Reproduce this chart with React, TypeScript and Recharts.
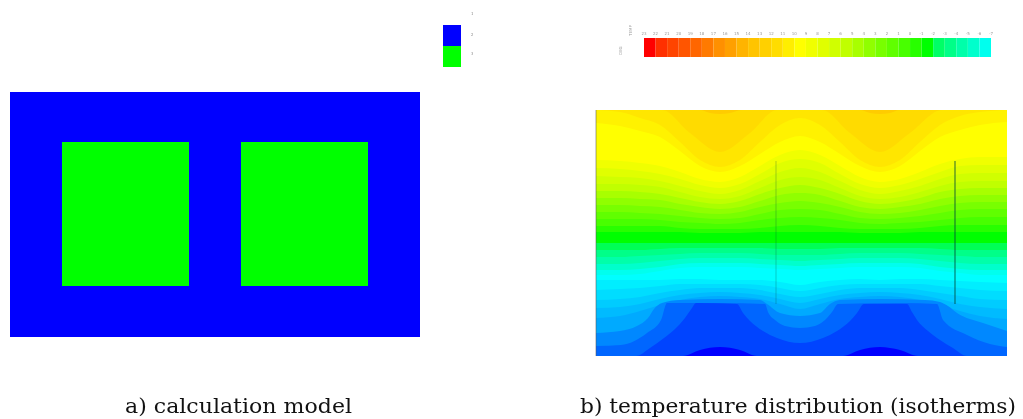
import React from "react";
import { ComposedChart, Area, XAxis, YAxis, ReferenceArea, ReferenceLine } from "recharts";

// ---- a) calculation model: cell extents in chart units
const modelOuterX = [10, 420];
const modelOuterY = [92, 337];
const modelInnerX = [[62, 189], [241, 368]];
const modelInnerY = [142, 286];
const materialColors = ["#0000ff", "#00ff00"];
const materialTicks = ["1", "2", "3"];

// ---- colour scale
const scaleColors = [
  "#ff0000", "#ff3000", "#ff4400", "#ff5500", "#ff6600", "#ff7a00", "#ff9000", "#ffa000", "#ffb400", "#ffc400",
  "#ffd000", "#ffdd00", "#ffee00", "#ffff00", "#f0ff00", "#e0ff00", "#d0ff00", "#c0ff00", "#a8ff00", "#90ff00",
  "#78ff00", "#60ff00", "#48ff00", "#28ff00", "#00ff00", "#00ff66", "#00ff88", "#00ffaa", "#00ffcc", "#00ffee",
];
const scaleTicks = [
  "23", "22", "21", "20", "19", "18", "17", "16", "15", "14", "13", "12", "11", "10", "9", "8",
  "7", "6", "5", "4", "3", "2", "1", "0", "-1", "-2", "-3", "-4", "-5", "-6", "-7",
];

// ---- b) isotherms: position of each contour across the section
const isoX = [596, 620, 640, 660, 680, 700, 720, 740, 760, 780, 800, 820, 840, 860, 880, 900, 920, 940, 960, 980, 1007];

const capX = [596, 700, 710, 720, 730, 742, 860, 870, 880, 890, 900, 1007];
const capY = [110, 110, 113, 114, 113, 110, 110, 113, 114, 113, 110, 110];
const vX = [596, 662, 690, 720, 750, 777, 822, 850, 880, 910, 942, 1007];
const vY = [110, 110, 133, 152, 133, 110, 110, 133, 152, 133, 110, 110];
const warmA = [110, 112, 118, 125, 142, 160, 167, 160, 142, 125, 118, 125, 142, 160, 167, 160, 142, 125, 116, 112, 110];
const warmB = [123, 126, 131, 137, 151, 166, 172, 166, 154, 142, 136, 142, 154, 166, 172, 166, 151, 137, 130, 125, 122];
const t5 = [160, 161, 163, 166, 172, 179, 182, 177, 166, 155, 150, 155, 166, 177, 182, 179, 172, 164, 159, 157, 157];
const t6 = [168, 169, 171, 174, 179, 185, 188, 184, 174, 163, 159, 163, 174, 184, 188, 185, 179, 172, 166, 165, 165];
const t7 = [176, 177, 178, 181, 186, 191, 194, 190, 181, 172, 168, 172, 181, 190, 194, 191, 186, 179, 174, 173, 173];
const t8 = [184, 184, 185, 187, 192, 197, 199, 196, 188, 180, 177, 180, 188, 196, 199, 197, 192, 186, 182, 181, 181];
const t9 = [191, 191, 192, 194, 198, 202, 204, 201, 194, 188, 185, 188, 194, 201, 204, 202, 198, 192, 189, 188, 188];
const t10 = [198, 198, 199, 200, 204, 207, 209, 207, 201, 195, 193, 195, 201, 207, 209, 207, 204, 199, 196, 195, 195];
const t11 = [205, 205, 206, 207, 210, 213, 214, 212, 207, 203, 201, 203, 207, 212, 214, 213, 210, 206, 203, 202, 202];
const t12 = [212, 212, 213, 214, 216, 218, 219, 218, 214, 210, 209, 210, 214, 218, 219, 218, 216, 213, 210, 209, 209];
const t13 = [219, 219, 219, 220, 222, 223, 224, 223, 220, 218, 217, 218, 220, 223, 224, 223, 222, 220, 218, 217, 217];
const t14 = [226, 226, 226, 226, 228, 229, 229, 229, 228, 226, 225, 226, 228, 229, 229, 229, 228, 226, 225, 225, 225];
const t15 = [232, 232, 232, 232, 232, 233, 233, 233, 232, 232, 232, 232, 232, 233, 233, 233, 232, 232, 232, 232, 232];
const c1 = [243, 243, 243, 243, 243, 243, 243, 243, 243, 243, 243, 243, 243, 243, 243, 243, 243, 243, 243, 243, 243];
const c2 = [250, 250, 250, 249, 248, 248, 248, 248, 248, 249, 249, 249, 248, 248, 248, 248, 248, 249, 250, 250, 250];
const c3 = [257, 257, 256, 255, 254, 253, 253, 253, 254, 255, 255, 255, 254, 253, 253, 253, 254, 255, 256, 257, 257];
const c4 = [264, 264, 263, 261, 259, 258, 258, 258, 259, 260, 261, 260, 259, 258, 258, 258, 259, 261, 263, 264, 264];
const c5 = [270, 270, 269, 267, 264, 263, 263, 263, 264, 265, 266, 265, 264, 263, 263, 263, 264, 267, 269, 270, 270];
const c6 = [275, 275, 274, 271, 268, 267, 267, 267, 268, 269, 270, 269, 268, 267, 267, 267, 268, 271, 273, 275, 275];
const b1 = [280, 280, 280, 280, 279, 279, 280, 280, 280, 282, 285, 282, 280, 279, 280, 279, 279, 280, 281, 282, 283];
const b2 = [290, 289, 288, 286, 284, 284, 284, 284, 285, 288, 291, 288, 285, 284, 284, 284, 284, 286, 288, 290, 291];
const b3 = [300, 299, 297, 293, 290, 288, 288, 288, 290, 294, 297, 294, 290, 288, 288, 288, 290, 293, 296, 299, 300];
const b4 = [308, 307, 304, 299, 295, 293, 292, 293, 295, 299, 303, 299, 295, 293, 292, 293, 295, 299, 304, 307, 309];
const b5 = [318, 316, 311, 305, 300, 297, 296, 297, 299, 304, 309, 304, 299, 297, 296, 297, 300, 305, 311, 316, 319];

const arcAX = [596, 620, 637, 648, 654, 662, 680, 720, 760, 767, 780, 800, 820, 830, 840, 880, 925, 940, 948, 957, 983, 1007];
const arcAY = [333, 331, 326, 318, 309, 303, 300, 299, 300, 304, 313, 316, 313, 304, 300, 299, 300, 302, 306, 313, 323, 331];
const arcBX = [596, 621, 647, 661, 667, 720, 765, 768, 775, 785, 800, 815, 825, 832, 838, 900, 937, 943, 967, 990, 1007];
const arcBY = [346, 345, 333, 320, 303, 303, 304, 312, 320, 326, 328, 326, 320, 312, 304, 303, 304, 320, 335, 344, 347];
const arcCX = [596, 636, 650, 664, 675, 685, 692, 696, 737, 743, 750, 763, 777, 800, 823, 837, 850, 857, 864, 907, 912, 917, 928, 940, 953, 967, 1007];
const arcCY = [356, 356, 348, 338, 329, 318, 308, 303, 304, 313, 321, 331, 338, 343, 338, 331, 321, 313, 304, 304, 312, 320, 331, 340, 348, 356, 356];
const bumpX = [596, 683, 700, 720, 740, 757, 843, 860, 880, 900, 918, 1007];
const bumpY = [356, 356, 350, 347, 350, 356, 356, 350, 347, 350, 356, 356];

const sectionTopX = [596, 1007];
const sectionTopY = [110, 110];
const sectionBottom = 356;
const finX = [776, 955];
const finTop = 161;
const finBottom = 304;

const isotherms = [
  { color: "#ffcc00", xs: sectionTopX, ys: sectionTopY },
  { color: "#ffdb00", xs: capX, ys: capY },
  { color: "#ffe600", xs: vX, ys: vY },
  { color: "#fff200", xs: isoX, ys: warmA },
  { color: "#ffff00", xs: isoX, ys: warmB },
  { color: "#f0ff00", xs: isoX, ys: t5 },
  { color: "#e0ff00", xs: isoX, ys: t6 },
  { color: "#d0ff00", xs: isoX, ys: t7 },
  { color: "#c0ff00", xs: isoX, ys: t8 },
  { color: "#a8ff00", xs: isoX, ys: t9 },
  { color: "#90ff00", xs: isoX, ys: t10 },
  { color: "#78ff00", xs: isoX, ys: t11 },
  { color: "#60ff00", xs: isoX, ys: t12 },
  { color: "#48ff00", xs: isoX, ys: t13 },
  { color: "#28ff00", xs: isoX, ys: t14 },
  { color: "#00ff00", xs: isoX, ys: t15 },
  { color: "#00ff55", xs: isoX, ys: c1 },
  { color: "#00ff88", xs: isoX, ys: c2 },
  { color: "#00ffaa", xs: isoX, ys: c3 },
  { color: "#00ffcc", xs: isoX, ys: c4 },
  { color: "#00ffee", xs: isoX, ys: c5 },
  { color: "#00ffff", xs: isoX, ys: c6 },
  { color: "#00eeff", xs: isoX, ys: b1 },
  { color: "#00ddff", xs: isoX, ys: b2 },
  { color: "#00ccff", xs: isoX, ys: b3 },
  { color: "#00bbff", xs: isoX, ys: b4 },
  { color: "#00aaff", xs: isoX, ys: b5 },
  { color: "#0088ff", xs: arcAX, ys: arcAY },
  { color: "#0066ff", xs: arcBX, ys: arcBY },
  { color: "#0044ff", xs: arcCX, ys: arcCY },
  { color: "#0000ff", xs: bumpX, ys: bumpY },
];

const captionA = "a) calculation model";
const captionB = "b) temperature distribution (isotherms)";

function ColorScale() {
  return (
    <div style={{ position: "absolute", left: 638, top: 27, width: 359, height: 30 }}>
      <ComposedChart width={359} height={30} margin={{ top: 0, right: 6, bottom: 0, left: 6 }}>
        <XAxis
          type="number"
          orientation="top"
          dataKey="x"
          domain={[0, scaleColors.length]}
          ticks={scaleTicks.map((_, i) => i)}
          tickFormatter={(v: number) => scaleTicks[v]}
          interval={0}
          height={11}
          axisLine={false}
          tickLine={false}
          tickMargin={0}
          tick={{ fontSize: 4, fill: "#9a9a9a", fontFamily: "DejaVu Sans", dy: 3 }}
        />
        <YAxis type="number" dataKey="y" domain={[0, 1]} hide />
        {scaleColors.map((c, i) => (
          <Area
            key={i}
            data={[{ x: i, y: 1 }, { x: i + 1, y: 1 }]}
            dataKey="y"
            type="linear"
            baseValue={0}
            fill={c}
            fillOpacity={1}
            stroke="none"
            dot={false}
            activeDot={false}
            isAnimationActive={false}
          />
        ))}
      </ComposedChart>
    </div>
  );
}

function MaterialLegend() {
  return (
    <div style={{ position: "absolute", left: 443, top: 4, width: 30, height: 63 }}>
      <ComposedChart width={30} height={63} margin={{ top: 21, right: 0, bottom: 0, left: 0 }}>
        <XAxis type="number" dataKey="x" domain={[0, 1]} hide />
        <YAxis
          type="number"
          dataKey="y"
          orientation="right"
          domain={[0, materialColors.length]}
          ticks={materialTicks.map((_, i) => i)}
          tickFormatter={(v: number) => materialTicks[v]}
          reversed
          width={12}
          axisLine={false}
          tickLine={false}
          tickMargin={1}
          tick={{ fontSize: 4, fill: "#8a8a8a", fontFamily: "DejaVu Sans", dy: -11, dx: 3 }}
        />
        {materialColors.map((c, i) => (
          <Area
            key={i}
            data={[{ x: 0, y: i }, { x: 1, y: i }]}
            dataKey="y"
            type="linear"
            baseValue={i + 1}
            fill={c}
            fillOpacity={1}
            stroke="none"
            dot={false}
            activeDot={false}
            isAnimationActive={false}
          />
        ))}
      </ComposedChart>
    </div>
  );
}

export default function App() {
  return (
    <div style={{ position: "absolute", left: 0, top: 0, width: 1023, height: 419, background: "#fff", filter: "blur(0.7px)", overflow: "hidden" }}>
      <div style={{ position: "absolute", left: 0, top: 0 }}>
        <ComposedChart width={1023} height={419} margin={{ top: 0, right: 0, bottom: 0, left: 0 }}>
          <XAxis type="number" dataKey="x" domain={[0, 1023]} hide />
          <YAxis type="number" dataKey="y" domain={[0, 419]} reversed hide />
          <ReferenceArea x1={modelOuterX[0]} x2={modelOuterX[1]} y1={modelOuterY[0]} y2={modelOuterY[1]} fill={materialColors[0]} fillOpacity={1} stroke="none" />
          {modelInnerX.map((r, i) => (
            <ReferenceArea key={i} x1={r[0]} x2={r[1]} y1={modelInnerY[0]} y2={modelInnerY[1]} fill={materialColors[1]} fillOpacity={1} stroke="none" />
          ))}
          {isotherms.map((b, i) => (
            <Area
              key={i}
              data={b.xs.map((x, j) => ({ x, y: b.ys[j] }))}
              dataKey="y"
              type="monotone"
              baseValue={sectionBottom}
              fill={b.color}
              fillOpacity={1}
              stroke="none"
              dot={false}
              activeDot={false}
              isAnimationActive={false}
            />
          ))}
          <ReferenceLine stroke="#555" strokeOpacity={0.55} strokeWidth={1} segment={[{ x: sectionTopX[0], y: sectionTopY[0] }, { x: sectionTopX[0], y: sectionBottom }]} />
          <ReferenceLine stroke="#004a3a" strokeOpacity={0.28} strokeWidth={1} segment={[{ x: finX[0], y: finTop }, { x: finX[0], y: finBottom }]} />
          <ReferenceLine stroke="#004a3a" strokeOpacity={0.7} strokeWidth={1.2} segment={[{ x: finX[1], y: finTop }, { x: finX[1], y: finBottom }]} />
        </ComposedChart>
      </div>
      <MaterialLegend />
      <ColorScale />
      <svg width={1023} height={419} style={{ position: "absolute", left: 0, top: 0, pointerEvents: "none" }}>
        <text x={632} y={36} fontSize={4} fill="#9a9a9a" fontFamily="DejaVu Sans" transform="rotate(-90 632 36)">TEMP</text>
        <text x={622} y={55} fontSize={4} fill="#9a9a9a" fontFamily="DejaVu Sans" transform="rotate(-90 622 55)">DEG</text>
        <text x={125} y={413} fontSize={20} fill="#111" fontFamily="DejaVu Serif" textLength={227} lengthAdjust="spacingAndGlyphs">{captionA}</text>
        <text x={580} y={413} fontSize={20} fill="#111" fontFamily="DejaVu Serif" textLength={436} lengthAdjust="spacingAndGlyphs">{captionB}</text>
      </svg>
    </div>
  );
}
